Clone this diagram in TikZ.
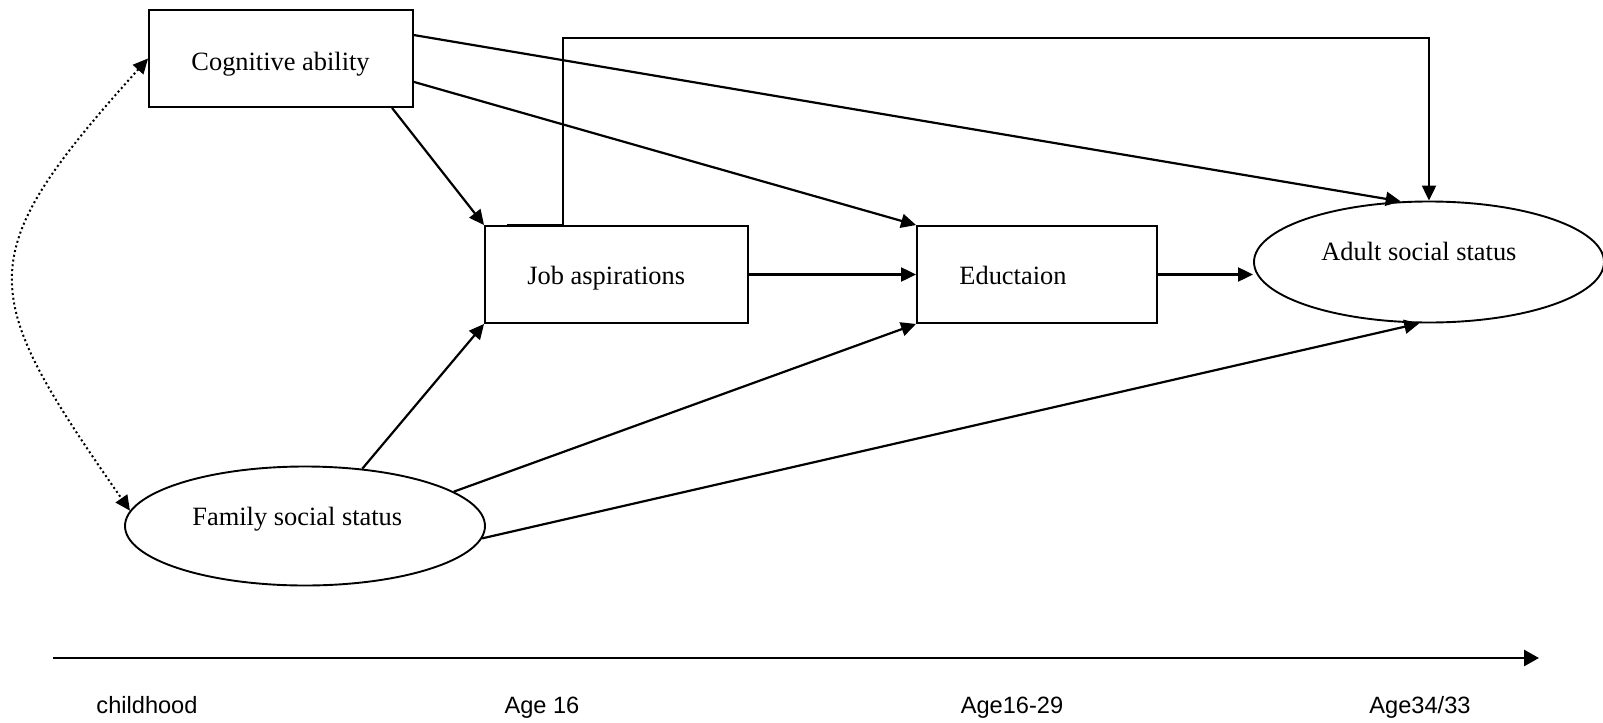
\documentclass[tikz,border=0pt]{standalone}
\usepackage{fontspec}
\setmainfont{Liberation Serif}
\newfontfamily\agefont{Liberation Sans}
\usepackage{tikz}
\usetikzlibrary{positioning}
\usetikzlibrary{shapes.geometric}
\usetikzlibrary{arrows.meta}
\tikzstyle{var}=[draw, line width=0.95pt, inner sep=0pt]
\tikzstyle{measured}=[var, rectangle, minimum height=48.5pt]
\tikzstyle{latent}=[var, ellipse]
\tikzstyle{vartext}=[inner sep=0pt, anchor=base west, font=\fontsize{13.2}{16}\selectfont]
\tikzstyle{agetext}=[inner sep=0pt, anchor=base, font=\agefont\fontsize{11.8}{14}\selectfont]
\tikzstyle{connect arrow}=[-{Triangle[length=7.5pt,width=7pt]}, line width=1.1pt]
\tikzstyle{covary}=[{Triangle[length=7.5pt,width=7pt]}-{Triangle[length=7.5pt,width=7pt]}, line width=1pt, dash pattern=on 1pt off 1.4pt]
\tikzstyle{timeline}=[-{Triangle[length=7.5pt,width=8pt]}, line width=1.4pt]

\begin{document}
\begin{tikzpicture}[x=0.5pt, y=-0.5pt]
\useasboundingbox (0,0) rectangle (1603,723);

\node[measured, minimum width=132pt] (cog) at (281,58.5) {};
\node[measured, minimum width=131.5pt] (job) at (616.5,274.5) {};
\node[measured, minimum width=120pt] (edu) at (1037,274.5) {};
\node[latent, minimum width=175pt, minimum height=60.5pt] (adult) at (1429,262) {};
\node[latent, minimum width=180pt, minimum height=59.5pt] (fam) at (305,526) {};

\node[vartext] (cogtext) at ([shift={(43,11.5)}]cog.west) {Cognitive ability};
\node[vartext] (jobtext) at ([shift={(43,9.5)}]job.west) {Job aspirations};
\node[vartext] (edutext) at ([shift={(43,9.5)}]edu.west) {Eductaion};
\node[vartext] (famtext) at ([shift={(-113,-1)}]fam.center) {Family social status};
\node[vartext] (adulttext) at ([shift={(-108,-2)}]adult.center) {Adult social status};

\coordinate (jobtop) at ([xshift=11.5pt]job.north west);

\begin{scope}[connect arrow]
    \draw (cog.-24) -- (job.north west);
    \draw (cog.10) -- (adult.115);
    \draw (cog.-10) -- (edu.north west);
    \draw (job.east) -- (edu.west);
    \draw (edu.east) -- (edu.east -| adult.west);
    \draw (jobtop) -- ++(56,0) -- ++(0,-187) -| (adult.north);
    \draw (fam.45) -- (job.south west);
    \draw (fam.13) -- (edu.south west);
    \draw (fam.-4) -- (adult.-99);
\end{scope}

% correlation between the two background variables
\draw[covary] (cog.west) .. controls +(-180,200) and +(-153,-220) .. (fam.175);

% time axis
\coordinate (tstart) at (53,658);
\coordinate (tend) at (1539,658);
\draw[timeline] (tstart) -- (tend);
\node[agetext] (childhood) at (147,713) {childhood};
\node[agetext] (age16) at (542,713) {Age 16};
\node[agetext] (age1629) at (1012,713) {Age16-29};
\node[agetext] (age3433) at (1420,713) {Age34/33};

\end{tikzpicture}
\end{document}
